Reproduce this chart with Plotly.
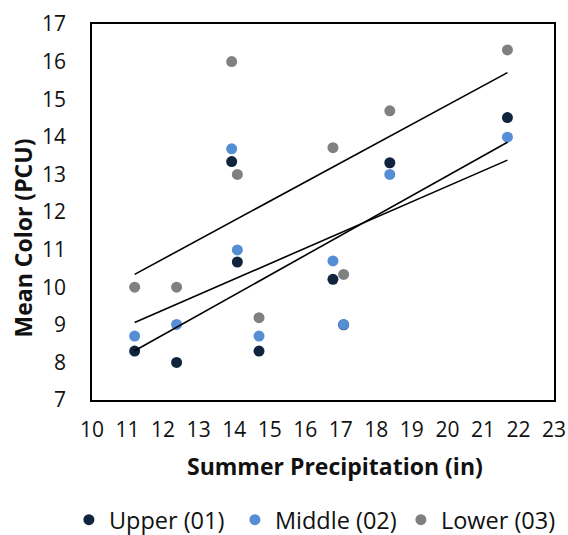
import numpy as np
import plotly.graph_objects as go

# Data
precip = [11.2, 12.38, 13.93, 14.09, 14.70, 16.78, 17.08, 18.38, 21.69]
upper = [8.3, 8.0, 13.34, 10.67, 8.3, 10.21, 9.0, 13.31, 14.51]
middle = [8.7, 9.01, 13.68, 10.99, 8.7, 10.70, 9.01, 13.0, 13.99]
lower = [10.0, 10.0, 16.0, 13.0, 9.19, 13.71, 10.34, 14.69, 16.31]

series_names = ["Upper (01)", "Middle (02)", "Lower (03)"]
series_vals = [upper, middle, lower]
series_colors = ["#10243E", "#558ED5", "#808080"]

FONT = "Open Sans"
TXT = "#111111"

fig = go.Figure()
for name, vals, col in zip(series_names, series_vals, series_colors):
    fig.add_trace(go.Scatter(
        x=precip, y=vals, mode="markers", name=name,
        marker=dict(color=col, size=11, line=dict(width=0)),
    ))

# linear trendlines (least-squares fit of each series)
xs = np.array(precip)
for vals in series_vals:
    m, b = np.polyfit(xs, np.array(vals), 1)
    xe = np.array([xs.min(), xs.max()])
    fig.add_trace(go.Scatter(
        x=xe, y=m * xe + b, mode="lines", showlegend=False,
        line=dict(color="black", width=1.6), hoverinfo="skip",
    ))

fig.update_layout(
    width=568, height=535,
    margin=dict(l=92, r=14, t=24, b=135, autoexpand=False),
    paper_bgcolor="white", plot_bgcolor="white",
    font=dict(family=FONT, size=21, color=TXT),
    showlegend=True,
    legend=dict(
        orientation="h", x=-0.05, xanchor="left", y=-0.319, yanchor="middle",
        font=dict(family=FONT, size=23.5, color=TXT),
        itemwidth=30, tracegroupgap=0, entrywidth=121, entrywidthmode="pixels",
    ),
    xaxis=dict(
        range=[10, 23], dtick=1, tick0=10, showgrid=False, zeroline=False,
        showline=True, linecolor="black", linewidth=1.5, mirror=True,
        ticks="outside", ticklen=10, tickcolor="rgba(0,0,0,0)",
        tickfont=dict(family=FONT, size=21, color=TXT), automargin=False,
    ),
    yaxis=dict(
        range=[7, 17], dtick=1, tick0=7, showgrid=False, zeroline=False,
        showline=True, linecolor="black", linewidth=1.5, mirror=True,
        ticks="outside", ticklen=20, tickcolor="rgba(0,0,0,0)",
        tickfont=dict(family=FONT, size=21, color=TXT), automargin=False,
    ),
    annotations=[
        dict(text="<b>Summer Precipitation (in)</b>", xref="paper", yref="paper",
             x=0.527, y=-0.175, xanchor="center", yanchor="middle", showarrow=False,
             font=dict(family=FONT, size=23, color=TXT)),
        dict(text="<b>Mean Color (PCU)</b>", xref="paper", yref="paper",
             x=-0.149, y=0.43, xanchor="center", yanchor="middle", showarrow=False,
             textangle=-90, font=dict(family=FONT, size=23, color=TXT)),
    ],
)

fig.write_html("out.html")
